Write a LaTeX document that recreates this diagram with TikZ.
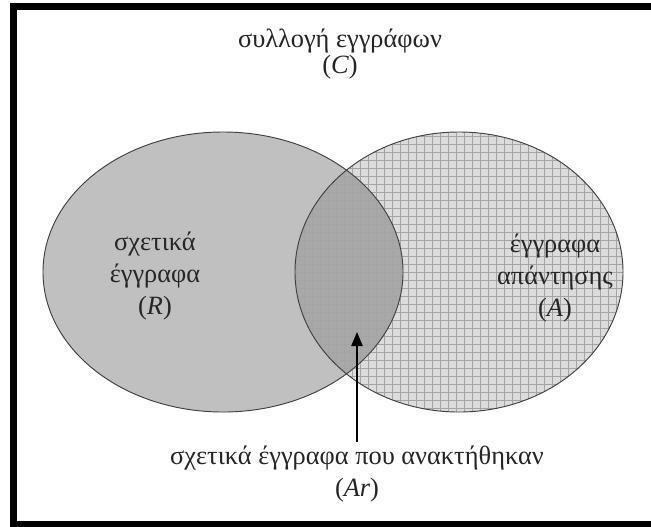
\documentclass[tikz,border=0pt]{standalone}
\usepackage{fontspec}
\setmainfont{Liberation Serif}
\usetikzlibrary{arrows.meta}
\definecolor{relgray}{HTML}{C0C0C0}
\definecolor{ansgray}{HTML}{DCDCDC}
\definecolor{bothgray}{HTML}{A8A8A8}
\definecolor{gridgray}{HTML}{A4A4A4}

\begin{document}
\begin{tikzpicture}[x=0.03cm,y=-0.03cm,
  lbl/.style={align=center,font=\fontsize{22.5}{27}\selectfont,text=black!85},
  setline/.style={draw=black!75,line width=0.8pt}]
\useasboundingbox (0,0) rectangle (651,526);
\clip (0,0) rectangle (651,526);
% frame
\draw[line width=0.21cm] (13.5,6) rectangle (700,524.5);
% the two sets
\fill[relgray] (223,272) ellipse [x radius=5.4cm,y radius=4.2cm];
\fill[ansgray] (459,272) ellipse [x radius=4.92cm,y radius=4.2cm];
\begin{scope}
  \clip (223,272) ellipse [x radius=5.4cm,y radius=4.2cm];
  \fill[bothgray] (459,272) ellipse [x radius=4.92cm,y radius=4.2cm];
\end{scope}
\begin{scope}
  \clip (459,272) ellipse [x radius=4.92cm,y radius=4.2cm];
  \draw[gridgray,line width=0.7pt,step=0.24cm] (290,120) grid (630,420);
\end{scope}
\draw[setline] (223,272) ellipse [x radius=5.4cm,y radius=4.2cm];
\draw[setline] (459,272) ellipse [x radius=4.92cm,y radius=4.2cm];
% labels
\node[lbl,font=\fontsize{22.5}{22}\selectfont] (coll) at (340,54) {συλλογή εγγράφων\\(\textit{C})};
\node[lbl] (rel) at (155,276) {σχετικά\\έγγραφα\\(\textit{R})};
\node[lbl] (ans) at (555,278) {έγγραφα\\απάντησης\\(\textit{A})};
\node[lbl] (relans) at (357,474) {σχετικά έγγραφα που ανακτήθηκαν\\(\textit{Ar})};
\coordinate (hit) at (357,332);
\draw[-{Triangle[length=0.42cm,width=0.34cm]},line width=1pt] (relans.north) -- (hit);
\end{tikzpicture}
\end{document}
